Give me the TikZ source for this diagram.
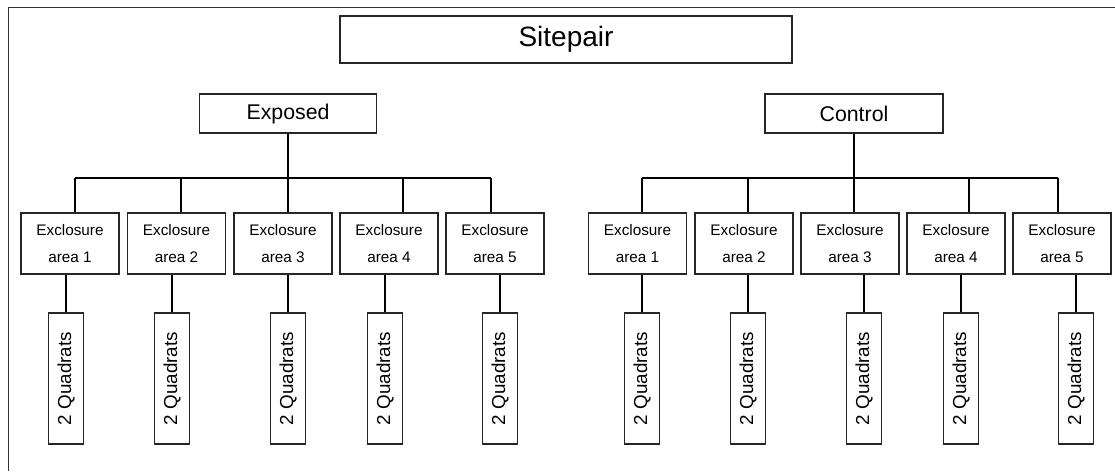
\documentclass[tikz,border=0pt]{standalone}
\usepackage{fontspec}
\setmainfont{Liberation Sans}
\tikzset{
  box/.style={draw=black!85,line width=1.3pt,fill=white,inner sep=0pt},
  areabox/.style={box,minimum width=98pt,minimum height=61pt,align=center,
    font=\fontsize{15.3}{27.6}\selectfont},
  quadbox/.style={box,rotate=90,minimum width=131pt,minimum height=35pt,
    font=\fontsize{18.8}{20}\selectfont},
  link/.style={draw=black,line width=2pt}
}
\newcommand{\quadtext}{2 Quadrats\hspace{14pt}}
\begin{document}
\begin{tikzpicture}[x=1pt,y=-1pt]
\useasboundingbox (0,0) rectangle (1115,471);
\draw[black!80,line width=1pt] (8,471) -- (8,7) -- (1115,7);
% top level
\node[box,minimum width=452pt,minimum height=47pt,font=\fontsize{28}{30}\selectfont] (site) at (566,39.5) {Sitepair};
\node[box,minimum width=177pt,minimum height=39pt,font=\fontsize{21.3}{24}\selectfont] (exp) at (288,113.5) {Exposed};
\node[box,minimum width=178pt,minimum height=39pt,font=\fontsize{21.3}{24}\selectfont] (con) at (854,113.5) {Control};
% bus points
\coordinate (eb1) at (75,178);
\coordinate (eb2) at (181,178);
\coordinate (eb3) at (288,178);
\coordinate (eb4) at (403,178);
\coordinate (eb5) at (491,178);
\coordinate (cb1) at (642,178);
\coordinate (cb2) at (748,178);
\coordinate (cb3) at (854,178);
\coordinate (cb4) at (969,178);
\coordinate (cb5) at (1058,178);
% exclosure areas, exposed
\node[areabox] (ea1) at (70,243.5) {Exclosure\\area 1};
\node[areabox] (ea2) at (176.5,243.5) {Exclosure\\area 2};
\node[areabox] (ea3) at (283,243.5) {Exclosure\\area 3};
\node[areabox] (ea4) at (389,243.5) {Exclosure\\area 4};
\node[areabox] (ea5) at (495,243.5) {Exclosure\\area 5};
% exclosure areas, control
\node[areabox] (ca1) at (637.5,243.5) {Exclosure\\area 1};
\node[areabox] (ca2) at (744,243.5) {Exclosure\\area 2};
\node[areabox] (ca3) at (850,243.5) {Exclosure\\area 3};
\node[areabox] (ca4) at (956,243.5) {Exclosure\\area 4};
\node[areabox] (ca5) at (1062,243.5) {Exclosure\\area 5};
% quadrats
\node[quadbox] (eq1) at (66,378.5) {\quadtext};
\node[quadbox] (eq2) at (172,378.5) {\quadtext};
\node[quadbox] (eq3) at (288,378.5) {\quadtext};
\node[quadbox] (eq4) at (385,378.5) {\quadtext};
\node[quadbox] (eq5) at (500,378.5) {\quadtext};
\node[quadbox] (cq1) at (642,378.5) {\quadtext};
\node[quadbox] (cq2) at (748,378.5) {\quadtext};
\node[quadbox] (cq3) at (864,378.5) {\quadtext};
\node[quadbox] (cq4) at (961,378.5) {\quadtext};
\node[quadbox] (cq5) at (1076,378.5) {\quadtext};
% connectors
\draw[link] (exp.south) -- (exp.south |- eb3);
\draw[link] (eb1) -- (eb5);
\draw[link] (con.south) -- (con.south |- cb3);
\draw[link] (cb1) -- (cb5);
\draw[link] (eb1) -- (eb1 |- ea1.north);
\draw[link] (eb2) -- (eb2 |- ea2.north);
\draw[link] (eb3) -- (eb3 |- ea3.north);
\draw[link] (eb4) -- (eb4 |- ea4.north);
\draw[link] (eb5) -- (eb5 |- ea5.north);
\draw[link] (cb1) -- (cb1 |- ca1.north);
\draw[link] (cb2) -- (cb2 |- ca2.north);
\draw[link] (cb3) -- (cb3 |- ca3.north);
\draw[link] (cb4) -- (cb4 |- ca4.north);
\draw[link] (cb5) -- (cb5 |- ca5.north);
\draw[link] (eq1.east) -- (eq1.east |- ea1.south);
\draw[link] (eq2.east) -- (eq2.east |- ea2.south);
\draw[link] (eq3.east) -- (eq3.east |- ea3.south);
\draw[link] (eq4.east) -- (eq4.east |- ea4.south);
\draw[link] (eq5.east) -- (eq5.east |- ea5.south);
\draw[link] (cq1.east) -- (cq1.east |- ca1.south);
\draw[link] (cq2.east) -- (cq2.east |- ca2.south);
\draw[link] (cq3.east) -- (cq3.east |- ca3.south);
\draw[link] (cq4.east) -- (cq4.east |- ca4.south);
\draw[link] (cq5.east) -- (cq5.east |- ca5.south);
\end{tikzpicture}
\end{document}
